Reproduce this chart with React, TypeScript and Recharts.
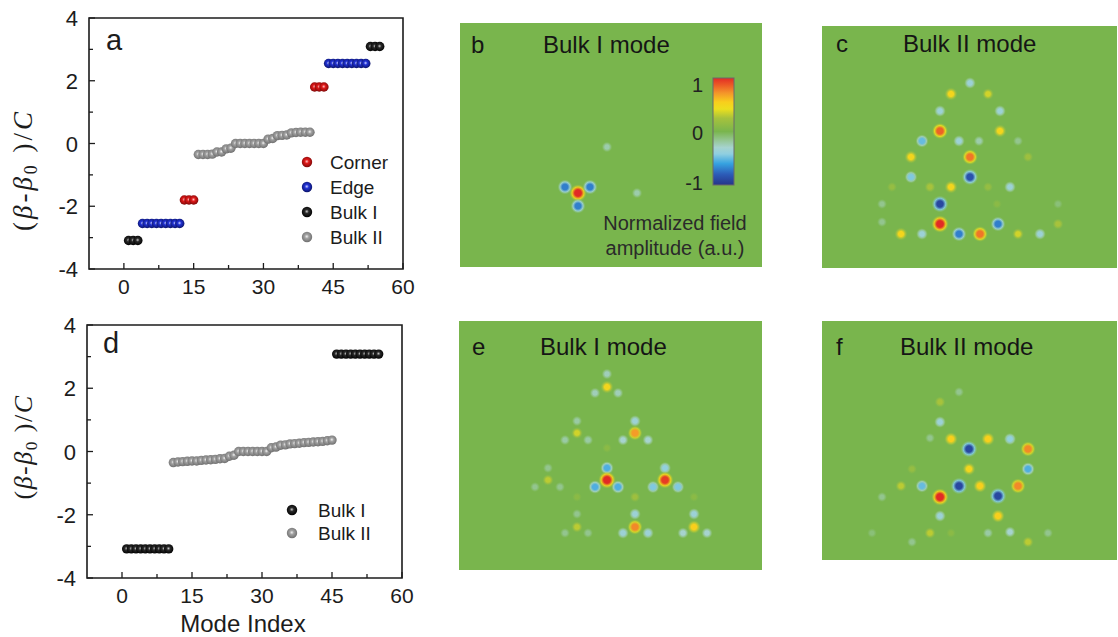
import { ScatterChart, Scatter, XAxis, YAxis, ReferenceArea } from "recharts";

// ---- panel a: mode spectrum (trimer lattice with corners/edges) ----
const cornerAX = [13, 14, 15, 41, 42, 43];
const cornerAY = [-1.8, -1.8, -1.8, 1.8, 1.8, 1.8];
const edgeAX = [4, 5, 6, 7, 8, 9, 10, 11, 12, 44, 45, 46, 47, 48, 49, 50, 51, 52];
const edgeAY = [-2.55, -2.55, -2.55, -2.55, -2.55, -2.55, -2.55, -2.55, -2.55, 2.55, 2.55, 2.55, 2.55, 2.55, 2.55, 2.55, 2.55, 2.55];
const bulk1AX = [1, 2, 3, 53, 54, 55];
const bulk1AY = [-3.09, -3.09, -3.09, 3.09, 3.09, 3.09];
const bulk2AX = [16, 17, 18, 19, 20, 21, 22, 23, 24, 25, 26, 27, 28, 29, 30, 31, 32, 33, 34, 35, 36, 37, 38, 39, 40];
const bulk2AY = [-0.35, -0.35, -0.35, -0.34, -0.27, -0.27, -0.17, -0.15, 0, 0, 0, 0, 0, 0, 0, 0.14, 0.16, 0.25, 0.26, 0.27, 0.34, 0.35, 0.36, 0.36, 0.36];

// ---- panel d: mode spectrum (bulk only) ----
const bulk1DX = [1, 2, 3, 4, 5, 6, 7, 8, 9, 10, 46, 47, 48, 49, 50, 51, 52, 53, 54, 55];
const bulk1DY = [-3.08, -3.08, -3.08, -3.08, -3.08, -3.08, -3.08, -3.08, -3.08, -3.08, 3.08, 3.08, 3.08, 3.08, 3.08, 3.08, 3.08, 3.08, 3.08, 3.08];
const bulk2DX = [11, 12, 13, 14, 15, 16, 17, 18, 19, 20, 21, 22, 23, 24, 25, 26, 27, 28, 29, 30, 31, 32, 33, 34, 35, 36, 37, 38, 39, 40, 41, 42, 43, 44, 45];
const bulk2DY = [-0.35, -0.33, -0.32, -0.31, -0.3, -0.3, -0.28, -0.27, -0.26, -0.25, -0.23, -0.22, -0.15, -0.12, 0, 0, 0, 0, 0, 0, 0, 0.12, 0.14, 0.2, 0.21, 0.24, 0.25, 0.26, 0.28, 0.29, 0.3, 0.31, 0.32, 0.34, 0.36];

const X_TICKS = [0, 7.5, 15, 22.5, 30, 37.5, 45, 52.5, 60];
const Y_TICKS = [-4, -3, -2, -1, 0, 1, 2, 3, 4];

// ---- field maps: [x, y, normalized amplitude], x/y in panel pixels ----
const spotsB = [
  [118, 170, 1], [105, 164, -0.7], [130, 164, -0.7], [118, 183, -0.7], [147, 124, -0.22], [177, 170, -0.22],
];
const spotsC = [
  [148, 57, -0.35], [129, 68, 0.5], [166, 68, 0.35], [118, 85, -0.35], [178, 85, -0.35], [118, 105, 0.85],
  [178, 105, 0.5], [100, 115, -0.5], [137, 115, -0.35], [157, 115, -0.22], [196, 115, -0.15], [89, 131, 0.5],
  [148, 131, 0.8], [206, 131, 0.2], [89, 151, -0.45], [148, 151, -0.85], [70, 161, 0.15], [108, 161, 0.25],
  [129, 161, 0.5], [166, 161, 0.15], [188, 161, -0.35], [60, 178, -0.15], [118, 178, -0.9], [175, 178, 0.1],
  [236, 178, -0.1], [60, 196, -0.15], [118, 198, 1], [176, 198, -0.7], [236, 198, 0.25], [79, 208, 0.5],
  [100, 208, -0.35], [137, 208, -0.7], [158, 208, 0.8], [196, 208, 0.35], [218, 208, -0.35],
];
const spotsE = [
  [148, 53, -0.25], [148, 66, 0.5], [136, 72, -0.25], [159, 72, -0.25], [118, 100, -0.2], [176, 100, -0.35],
  [118, 112, 0.35], [176, 112, 0.7], [106, 119, -0.2], [129, 119, -0.2], [164, 119, -0.3], [189, 119, -0.3],
  [148, 127, 0.1], [89, 147, -0.15], [148, 147, -0.55], [206, 147, -0.4], [89, 159, 0.3], [148, 159, 1],
  [206, 159, 0.95], [76, 166, -0.15], [101, 166, -0.15], [136, 166, -0.55], [159, 166, -0.55], [194, 166, -0.45],
  [219, 166, -0.45], [118, 176, 0.1], [176, 176, 0.2], [235, 176, 0.1], [118, 193, -0.15], [176, 193, -0.35],
  [235, 193, -0.35], [118, 206, 0.3], [176, 206, 0.75], [235, 206, 0.55], [106, 212, -0.15], [129, 212, -0.15],
  [164, 212, -0.35], [189, 212, -0.35], [224, 212, -0.3], [248, 212, -0.3],
];
const spotsF = [
  [137, 71, -0.15], [118, 81, 0.25], [118, 101, -0.35], [108, 117, -0.15], [129, 118, 0.55], [166, 118, 0.55],
  [188, 118, -0.4], [147, 128, -0.9], [206, 128, 0.75], [147, 148, 0.5], [206, 148, -0.55], [90, 148, 0.15],
  [79, 165, 0.3], [100, 165, -0.5], [137, 165, -0.9], [158, 165, 0.55], [196, 165, 0.75], [118, 176, 1],
  [176, 175, -0.9], [60, 176, -0.15], [118, 195, -0.35], [176, 195, 0.55], [50, 212, -0.1], [90, 221, -0.15],
  [108, 212, 0.3], [129, 212, 0.1], [166, 212, -0.2], [188, 211, -0.3], [206, 221, 0.3], [226, 212, -0.15],
];

const SANS = "'Liberation Sans', Arial, sans-serif";
const SERIF = "'Liberation Serif', 'Times New Roman', serif";
const INK = "#1c1c1c";
const GREEN = "#79b54d";

// jet-like colormap used by the field maps
const CMAP: [number, string][] = [
  [-1, "#263488"], [-0.8, "#2c5cb8"], [-0.6, "#36a2e0"], [-0.42, "#8fcfe0"], [-0.3, "#a6d3cf"],
  [-0.15, "#93c58e"], [0, GREEN], [0.25, "#a7c23c"], [0.42, "#ecdf1e"], [0.55, "#f8cf1c"],
  [0.72, "#f4952a"], [0.87, "#ec5a26"], [1, "#e22b25"],
];
function hex(c: string) {
  return [1, 3, 5].map((i) => parseInt(c.slice(i, i + 2), 16));
}
function cmap(v: number) {
  const t = Math.max(-1, Math.min(1, v));
  for (let i = 1; i < CMAP.length; i++) {
    const [v1, c1] = CMAP[i];
    const [v0, c0] = CMAP[i - 1];
    if (t <= v1) {
      const f = (t - v0) / (v1 - v0);
      const a = hex(c0), b = hex(c1);
      return `rgb(${a.map((x, k) => Math.round(x + (b[k] - x) * f)).join(",")})`;
    }
  }
  return CMAP[CMAP.length - 1][1];
}
const spotId = (v: number) => `spot-${Math.round((v + 1) * 100)}`;
const allSpotValues = Array.from(new Set([...spotsB, ...spotsC, ...spotsE, ...spotsF].map((s) => s[2])));

const BALLS = [
  { id: "corner", light: "#ffc2c2", base: "#e11a1a", dark: "#7e0808" },
  { id: "edge", light: "#cdd3ff", base: "#2233d6", dark: "#0b1368" },
  { id: "bulk1", light: "#c8c8c8", base: "#2a2a2a", dark: "#000000" },
  { id: "bulk2", light: "#f2f2f2", base: "#a2a2a2", dark: "#6f6f6f" },
];

const ball = (id: string) => (props: any) => {
  const { cx, cy } = props;
  if (cx == null || cy == null) return <g />;
  return <circle cx={cx} cy={cy} r={4.7} fill={`url(#ball-${id})`} />;
};

const spotShape = (props: any) => {
  const { cx, cy } = props;
  const v = props.payload?.v ?? props.v ?? 0;
  if (cx == null || cy == null) return <g />;
  return <circle cx={cx} cy={cy} r={4.5 + 4.3 * Math.abs(v)} fill={`url(#${spotId(v)})`} />;
};

const XTick = (props: any) => {
  const { x, y, payload } = props;
  const major = payload.value % 15 === 0;
  return (
    <g>
      <line x1={x} x2={x} y1={y} y2={y - (major ? 6 : 4)} stroke={INK} strokeWidth={1.3} />
      {major && (
        <text x={x} y={y + 25} textAnchor="middle" fontSize={21} fill={INK} fontFamily={SANS}>
          {payload.value}
        </text>
      )}
    </g>
  );
};

const YTick = (props: any) => {
  const { x, y, payload } = props;
  const major = payload.value % 2 === 0;
  return (
    <g>
      <line x1={x} x2={x + (major ? 6 : 4)} y1={y} y2={y} stroke={INK} strokeWidth={1.3} />
      {major && (
        <text x={x - 11} y={y + 8} textAnchor="end" fontSize={22} fill={INK} fontFamily={SANS}>
          {payload.value}
        </text>
      )}
    </g>
  );
};

const pts = (xs: number[], ys: number[]) => xs.map((x, i) => ({ x, y: ys[i] }));

type Series = { id: string; data: { x: number; y: number }[] };

function Spectrum({ series, height, margin, xAxisHeight }: { series: Series[]; height: number; margin: any; xAxisHeight: number }) {
  return (
    <ScatterChart width={420} height={height} margin={margin}>
      <XAxis type="number" dataKey="x" domain={[-7.5, 60]} ticks={X_TICKS} interval={0} tickSize={0} tickMargin={0}
        tickLine={false} axisLine={false} height={xAxisHeight} allowDataOverflow tick={(p: any) => <XTick {...p} />} />
      <YAxis type="number" dataKey="y" domain={[-4, 4]} ticks={Y_TICKS} interval={0} tickSize={0} tickMargin={0}
        tickLine={false} axisLine={false} width={60} allowDataOverflow tick={(p: any) => <YTick {...p} />} />
      <ReferenceArea x1={-7.5} x2={60} y1={-4} y2={4} fill="none" stroke={INK} strokeWidth={1.6} ifOverflow="visible" />
      {series.map((s) => (
        <Scatter key={s.id} data={s.data} shape={ball(s.id)} isAnimationActive={false} />
      ))}
    </ScatterChart>
  );
}

function Field({ spots, left, top, w, h }: { spots: number[][]; left: number; top: number; w: number; h: number }) {
  const data = spots.map(([x, y, v]) => ({ x, y, v }));
  return (
    <div style={{ position: "absolute", left, top, width: w, height: h, background: GREEN }}>
      <ScatterChart width={w} height={h} margin={{ top: 0, right: 0, bottom: 0, left: 0 }}>
        <XAxis type="number" dataKey="x" domain={[0, w]} hide />
        <YAxis type="number" dataKey="y" domain={[0, h]} reversed hide />
        <Scatter data={data} shape={spotShape} isAnimationActive={false} />
      </ScatterChart>
    </div>
  );
}

const seriesA: Series[] = [
  { id: "bulk2", data: pts(bulk2AX, bulk2AY) },
  { id: "bulk1", data: pts(bulk1AX, bulk1AY) },
  { id: "edge", data: pts(edgeAX, edgeAY) },
  { id: "corner", data: pts(cornerAX, cornerAY) },
];
const seriesD: Series[] = [
  { id: "bulk2", data: pts(bulk2DX, bulk2DY) },
  { id: "bulk1", data: pts(bulk1DX, bulk1DY) },
];

const legendA = [
  { id: "corner", label: "Corner", y: 162 },
  { id: "edge", label: "Edge", y: 187 },
  { id: "bulk1", label: "Bulk I", y: 212 },
  { id: "bulk2", label: "Bulk II", y: 237 },
];
const legendD = [
  { id: "bulk1", label: "Bulk I", y: 510 },
  { id: "bulk2", label: "Bulk II", y: 533 },
];

const YLabel = ({ x, y, spacing, size }: { x: number; y: number; spacing: number; size: number }) => (
  <text transform={`translate(${x},${y}) rotate(-90)`} textAnchor="middle" fontFamily={SERIF} fontSize={size}
    fill={INK} letterSpacing={spacing}>
    (<tspan fontStyle="italic">β</tspan>-<tspan fontStyle="italic">β</tspan>
    <tspan fontSize={size * 0.66} dy={5}>0</tspan>
    <tspan dy={-5}> )/</tspan>
    <tspan fontStyle="italic">C</tspan>
  </text>
);

export default function App() {
  const title = { fontFamily: SANS, fontSize: 24, fill: "#151515" } as const;
  return (
    <div style={{ position: "absolute", left: 0, top: 0, width: 1118, height: 637, background: "#fff", overflow: "hidden" }}>
      <svg width={0} height={0} style={{ position: "absolute" }}>
        <defs>
          {BALLS.map((b) => (
            <radialGradient key={b.id} id={`ball-${b.id}`} cx="48%" cy="45%" r="55%">
              <stop offset="0" stopColor={b.light} />
              <stop offset="0.35" stopColor={b.base} />
              <stop offset="1" stopColor={b.dark} />
            </radialGradient>
          ))}
          {allSpotValues.map((v) => (
            <radialGradient key={v} id={spotId(v)} cx="50%" cy="50%" r="50%">
              <stop offset="0" stopColor={cmap(v)} />
              <stop offset="0.38" stopColor={cmap(v)} />
              <stop offset="0.68" stopColor={cmap(v * 0.5)} stopOpacity={0.9} />
              <stop offset="1" stopColor={cmap(v * 0.15)} stopOpacity={0} />
            </radialGradient>
          ))}
          <linearGradient id="cbar" x1="0" y1="0" x2="0" y2="1">
            {CMAP.slice().reverse().map(([v, c]) => (
              <stop key={v} offset={(1 - v) / 2} stopColor={c} />
            ))}
          </linearGradient>
        </defs>
      </svg>

      <div style={{ position: "absolute", left: 0, top: 0 }}>
        <Spectrum series={seriesA} height={300} xAxisHeight={31} margin={{ top: 18, right: 17, bottom: 0, left: 29 }} />
      </div>
      <div style={{ position: "absolute", left: 0, top: 300 }}>
        <Spectrum series={seriesD} height={337} xAxisHeight={40} margin={{ top: 25, right: 18, bottom: 19, left: 27 }} />
      </div>

      <Field spots={spotsB} left={460} top={23} w={302} h={244} />
      <Field spots={spotsC} left={822} top={26} w={295} h={242} />
      <Field spots={spotsE} left={459} top={321} w={303} h={249} />
      <Field spots={spotsF} left={822} top={321} w={295} h={239} />

      <svg width={1118} height={637} style={{ position: "absolute", left: 0, top: 0, pointerEvents: "none" }}>
        <YLabel x={32} y={170} spacing={3} size={27} />
        <YLabel x={32} y={447} spacing={1.5} size={26} />
        <text x={106} y={50} fontFamily={SANS} fontSize={29} fill={INK}>a</text>
        <text x={103} y={353} fontFamily={SANS} fontSize={29} fill={INK}>d</text>
        <text x={243} y={632} textAnchor="middle" fontFamily={SANS} fontSize={24} fill={INK}>Mode Index</text>

        {legendA.map((l) => (
          <g key={l.id}>
            <circle cx={307} cy={l.y} r={5.2} fill={`url(#ball-${l.id})`} />
            <text x={330} y={l.y + 7} fontFamily={SANS} fontSize={19} fill={INK}>{l.label}</text>
          </g>
        ))}
        {legendD.map((l) => (
          <g key={l.id}>
            <circle cx={292} cy={l.y} r={5.2} fill={`url(#ball-${l.id})`} />
            <text x={318} y={l.y + 7} fontFamily={SANS} fontSize={19} fill={INK}>{l.label}</text>
          </g>
        ))}

        <text x={471} y={53} {...title}>b</text>
        <text x={543} y={53} {...title}>Bulk I mode</text>
        <text x={836} y={52} {...title}>c</text>
        <text x={903} y={52} {...title}>Bulk II mode</text>
        <text x={472} y={355} {...title}>e</text>
        <text x={540} y={355} {...title}>Bulk I mode</text>
        <text x={836} y={355} {...title}>f</text>
        <text x={900} y={355} {...title}>Bulk II mode</text>

        <rect x={713} y={78} width={21} height={107} fill="url(#cbar)" stroke="#6a6a6a" strokeWidth={1} />
        <text x={703} y={92} textAnchor="end" fontFamily={SANS} fontSize={20} fill="#222">1</text>
        <text x={703} y={140} textAnchor="end" fontFamily={SANS} fontSize={20} fill="#222">0</text>
        <text x={703} y={190} textAnchor="end" fontFamily={SANS} fontSize={20} fill="#222">-1</text>
        <text x={675} y={230} textAnchor="middle" fontFamily={SANS} fontSize={20} fill="#2a2a2a">Normalized field</text>
        <text x={675} y={255} textAnchor="middle" fontFamily={SANS} fontSize={20} fill="#2a2a2a">amplitude (a.u.)</text>
      </svg>
    </div>
  );
}
